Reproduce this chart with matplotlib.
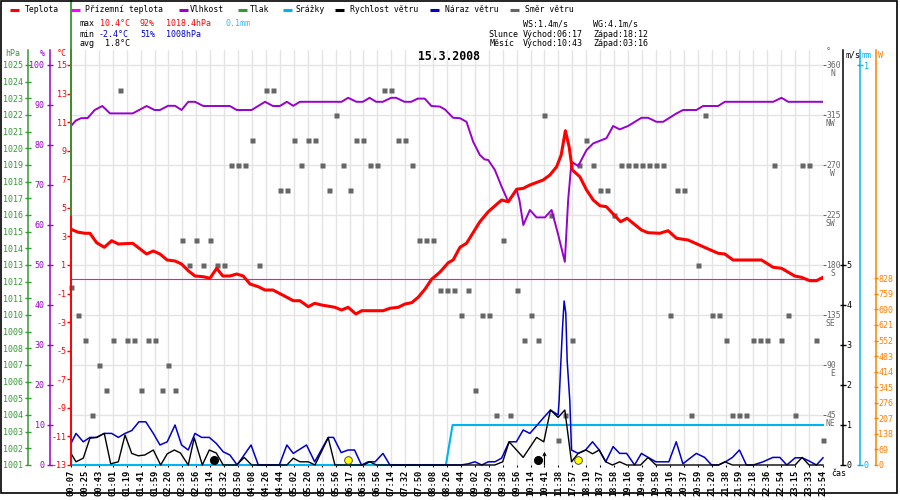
import matplotlib
matplotlib.use("Agg")
import matplotlib.pyplot as plt
from matplotlib.lines import Line2D
from matplotlib.patches import Rectangle

# ---------------- data ----------------
times = ["00:07","00:25","00:43","01:01","01:19","01:41","01:59","02:20","02:38","02:56",
         "03:14","03:32","03:50","04:08","04:26","04:44","05:02","05:20","05:38","05:56",
         "06:17","06:38","06:56","07:14","07:32","07:50","08:08","08:26","08:44","09:02",
         "09:20","09:38","09:56","10:14","10:41","11:38","17:57","18:19","18:37","18:58",
         "19:16","19:40","19:58","20:16","20:37","20:59","21:20","21:38","21:59","22:18",
         "22:36","22:54","23:15","23:33","23:54"]

temp_x = [0, 0.5, 1.0, 1.36, 1.84, 2.39, 2.92, 3.4, 4.43, 5.43, 5.9, 6.39, 6.9, 7.47, 7.94, 8.42,
          8.9, 9.5, 9.98, 10.46, 10.9, 11.41, 11.9, 12.37, 12.85, 13.45, 13.93, 14.5, 15.5, 15.96,
          16.44, 17.04, 17.5, 17.99, 18.95, 19.43, 19.9, 20.46, 20.87, 22.42, 22.9, 23.5, 23.98,
          24.46, 24.93, 25.41, 25.89, 26.49, 27.09, 27.44, 27.93, 28.4, 29.36, 29.96, 30.92, 31.4,
          32.0, 32.48, 32.95, 33.9, 34.39, 34.87, 35.2, 35.5, 35.77, 36.0, 36.54, 37.02, 37.5,
          37.98, 38.45, 38.93, 39.46, 39.93, 40.96, 41.44, 42.28, 42.88, 43.48, 44.31, 45.39,
          46.47, 46.95, 47.54, 49.58, 50.42, 51.02, 51.97, 52.45, 53.05, 53.53, 54.0]
temp = [3.5, 3.3, 3.22, 3.22, 2.56, 2.24, 2.7, 2.47, 2.52, 1.77, 1.98, 1.77, 1.35, 1.28, 1.07, 0.6,
        0.23, 0.18, 0.07, 0.77, 0.23, 0.23, 0.37, 0.23, -0.33, -0.52, -0.75, -0.75, -1.26, -1.5,
        -1.5, -1.92, -1.68, -1.8, -1.96, -2.15, -1.96, -2.43, -2.2, -2.2, -2.03, -1.96, -1.73,
        -1.64, -1.26, -0.7, 0.0, 0.5, 1.16, 1.35, 2.24, 2.52, 4.03, 4.73, 5.55, 5.43,
        6.3, 6.37, 6.6, 6.95, 7.3, 7.88, 8.7, 10.4, 9.28, 7.65, 7.18, 6.25, 5.55,
        5.15, 5.08, 4.57, 4.03, 4.27, 3.45, 3.26, 3.22, 3.4, 2.87, 2.75, 2.28,
        1.82, 1.77, 1.35, 1.35, 0.84, 0.77, 0.23, 0.14, -0.1, -0.1, 0.14]

ground_x = [0, 54]
ground = [0.0, 0.0]

hum_x = [0, 0.34, 0.72, 1.2, 1.7, 2.25, 2.8, 4.43, 5.43, 6.0, 6.39, 6.97, 7.47, 7.94, 8.42, 8.9,
         9.5, 11.41, 11.9, 12.97, 13.93, 14.5, 15.0, 15.5, 15.96, 16.44, 19.43, 19.9, 20.5, 20.96,
         21.44, 21.91, 22.39, 22.99, 23.35, 23.95, 24.43, 24.9, 25.4, 25.88, 26.49, 26.85, 27.44,
         27.93, 28.4, 28.88, 29.36, 29.7, 29.96, 30.44, 30.92, 31.4, 32.0, 32.2, 32.48, 32.95,
         33.43, 34.03, 34.51, 34.99, 35.46, 35.7, 35.94, 36.42, 37.02, 37.5, 38.45, 38.93, 39.4,
         40.0, 40.96, 41.44, 42.04, 42.52, 43.48, 43.95, 44.91, 45.39, 46.47, 46.95, 50.42,
         51.02, 51.5, 54.0]
hum = [84.75, 86.1, 86.7, 86.75, 88.75, 89.75, 87.9, 87.9, 89.75, 88.75, 88.75, 89.8, 89.8, 88.75,
       90.8, 90.8, 89.75, 89.75, 88.75, 88.75, 90.8, 89.75, 89.75, 90.8, 89.8, 90.8, 90.8, 91.8,
       90.8, 90.8, 91.8, 90.8, 90.8, 91.8, 91.8, 90.8, 90.8, 91.6, 91.6, 89.75, 89.6, 88.9, 86.8,
       86.7, 85.8, 80.8, 77.5, 76.4, 76.25, 73.75, 69.6, 65.8, 68.75, 66.25, 60.0, 63.75, 61.9,
       61.9, 63.75, 57.5, 50.8, 66.25, 75.8, 74.75, 78.75, 80.4, 81.7, 84.75, 83.9, 84.75, 86.8,
       86.8, 85.8, 85.8, 87.9, 88.75, 88.75, 89.75, 89.75, 90.8, 90.8, 91.8, 90.8, 90.8]

press_x = [0, 0]
press = [1016.0, 1028.9]

rain_x = [0, 26.92, 27.4, 54]
rain = [0.0, 0.0, 0.1, 0.1]

ws_x = [0, 0.36, 0.88, 1.36, 1.84, 2.39, 2.85, 3.4, 3.88, 4.36, 4.83, 5.3, 5.91, 6.44, 6.91, 7.42,
        7.86, 8.42, 8.85, 9.43, 9.93, 10.43, 10.93, 11.89, 12.44, 12.97, 15.5, 15.96, 16.44, 17.04,
        17.52, 18.47, 18.95, 21.0, 21.46, 21.94, 30.44, 31.0, 31.46, 32.47, 33.43, 33.95, 34.43,
        34.98, 35.46, 35.94, 36.42, 36.97, 37.45, 37.93, 38.4, 38.88, 39.4, 39.9, 40.9, 41.44,
        42.0, 46.5, 46.95, 47.5, 52.0, 52.5, 53.0, 54.0]
ws = [0.29, 0.08, 0.17, 0.67, 0.69, 0.79, 0.03, 0.08, 0.75, 0.29, 0.23, 0.25, 0.375, 0.0, 0.28, 0.375,
      0.3, 0.0, 0.68, 0.0, 0.375, 0.3, 0.0, 0.0, 0.19, 0.0, 0.0, 0.17, 0.08, 0.08,
      0.0, 0.68, 0.0, 0.0, 0.08, 0.0, 0.0, 0.08, 0.58, 0.19, 0.69, 0.58, 1.375,
      1.19, 1.375, 0.08, 0.29, 0.375, 0.28, 0.375, 0.08, 0.0, 0.08, 0.0, 0.0, 0.19,
      0.0, 0.0, 0.08, 0.0, 0.0, 0.19, 0.0, 0.0]

wg_x = [0, 0.36, 0.88, 1.36, 1.84, 2.39, 2.92, 3.4, 3.88, 4.36, 4.88, 5.37, 5.91, 6.39, 6.91, 7.47,
        7.94, 8.42, 8.9, 9.38, 9.93, 10.43, 10.93, 11.41, 11.93, 12.93, 13.45, 14.96, 15.5, 15.96,
        16.91, 17.5, 18.47, 18.85, 19.4, 19.9, 20.36, 20.86, 21.34, 21.84, 22.4, 22.9, 28.0, 28.52,
        29.0, 29.5, 29.96, 30.44, 30.92, 31.46, 31.98, 32.47, 32.95, 33.48, 33.95, 34.43, 34.98,
        35.05, 35.18, 35.3, 35.41, 35.53, 35.63, 35.82, 35.94, 36.42, 36.95, 37.45, 37.93, 38.4,
        38.93, 39.4, 39.9, 40.47, 40.96, 41.44, 42.0, 42.93, 43.46, 43.94, 44.9, 45.5, 46.0, 46.5,
        47.0, 47.5, 48.0, 48.5, 49.0, 49.7, 50.4, 50.9, 51.4, 52.0, 52.5, 53.0, 53.53, 54.0]
wg = [0.54, 0.79, 0.58, 0.69, 0.69, 0.79, 0.79, 0.69, 0.79, 0.86, 1.08, 1.08, 0.79, 0.5, 0.58, 1.0,
      0.5, 0.375, 0.79, 0.69, 0.69, 0.54, 0.33, 0.25, 0.0, 0.5, 0.0, 0.0, 0.5, 0.29,
      0.5, 0.08, 0.69, 0.69, 0.31, 0.375, 0.375, 0.0, 0.08, 0.08, 0.29, 0.0, 0.0, 0.03,
      0.08, 0.0, 0.08, 0.08, 0.17, 0.58, 0.58, 0.875, 0.79, 1.0, 1.19, 1.375, 1.25,
      1.6, 2.6, 3.46, 4.1, 3.8, 2.6, 1.6, 0.375, 0.29, 0.375, 0.58, 0.375, 0.08,
      0.46, 0.29, 0.29, 0.0, 0.29, 0.19, 0.08, 0.08, 0.58, 0.03, 0.29, 0.19, 0.0, 0.0,
      0.08, 0.19, 0.375, 0.0, 0.0, 0.08, 0.19, 0.19, 0.0, 0.18, 0.18, 0.1, 0.0, 0.18]

wind_dir = [160, 135, 112.5, 45, 90, 67.5, 112.5, 337.5, 112.5, 112.5,
            67.5, 112.5, 112.5, 67.5, 90, 67.5, 202.5, 180, 202.5, 180,
            202.5, 180, 180, 270, 270, 270, 292.5, 180, 337.5, 337.5,
            247.5, 247.5, 292.5, 270, 292.5, 292.5, 270, 247.5, 315, 270,
            247.5, 292.5, 292.5, 270, 270, 337.5, 337.5, 292.5, 292.5, 270,
            202.5, 202.5, 202.5, 157.5,
            157.5, 157.5, 135, 157.5, 67.5, 135, 135, 45, 202.5, 45,
            157.5, 112.5, 135, 112.5, 315, 225, 22.5, 45, 112.5, 270,
            292.5, 270, 247.5, 247.5, 225, 270, 270, 270, 270, 270,
            270, 270, 135, 247.5, 247.5, 45, 180, 315, 135, 135,
            112.5, 45, 45, 45, 112.5, 112.5, 112.5, 270, 112.5, 135,
            45, 270, 270, 112.5, 22.5]
wind_dir_x = [i * 0.5 for i in range(len(wind_dir))]   # one sample every half label step

event_x = [10.3, 19.9, 33.5, 36.4]          # moonset 03:16, sunrise 06:17, moonrise 10:43, sunset 18:12
event_kind = ["moon", "sun", "moon", "sun"]
arrow_x = 34

deg_ticks = [45, 90, 135, 180, 225, 270, 315, 360]
compass = ["NE", "E", "SE", "S", "SW", "W", "NW", "N"]
temp_ticks = list(range(-13, 16, 2))
hum_ticks = list(range(0, 101, 10))
press_ticks = list(range(1001, 1026))
ws_ticks = [0, 1, 2, 3, 4, 5]
mm_ticks = [0, 1]
rad_ticks = [0, 69, 138, 207, 276, 345, 414, 483, 552, 621, 690, 759, 828]

# ---------------- style ----------------
plt.rcParams['font.family'] = ['DejaVu Sans Mono', 'DejaVu Sans']
plt.rcParams['axes.unicode_minus'] = False

RED = '#ff0000'; MAG = '#ff00ff'; PUR = '#9900cc'; GRN = '#339933'
CYA = '#00b4f0'; BLU = '#0000cc'; GRY = '#666666'; ORA = '#ff8000'
PX = 0.72
FW, FH = 900, 500

def fx(px):
    return px / FW

def fy(py):
    return 1 - py / FH

fig = plt.figure(figsize=(9, 5), dpi=100)
fig.patch.set_facecolor('white')
rect = [fx(71), fy(465), fx(823) - fx(71), fy(50) - fy(465)]
axD = fig.add_axes(rect)
axS = axD.twinx()
axR = axD.twinx()
axW = axD.twinx()
axH = axD.twinx()
axT = axD.twinx()
axP = axD.twinx()
allax = [axD, axS, axR, axW, axH, axT, axP]
for a in allax:
    for s in a.spines.values():
        s.set_visible(False)
axD.set_xlim(0, 54)

# base: wind direction + grid
axD.yaxis.tick_right()
axD.set_ylim(0, 373.5)
axD.set_yticks(deg_ticks)
axD.set_yticklabels([str(d) for d in deg_ticks])
axD.tick_params(axis='y', colors=GRY, direction='out', length=3 * PX, width=0.8, pad=0.3, labelsize=5.8)
axD.grid(True, color='#e4e4e4', lw=1.0)
axD.set_axisbelow(True)
axD.set_xticks(range(len(times)))
axD.set_xticklabels(times, rotation=90, fontsize=6.3, fontweight='bold')
axD.tick_params(axis='x', colors='black', direction='out', length=2.5 * PX, width=0.8, pad=1.5)
axD.plot(wind_dir_x, wind_dir, 's', color=GRY, ms=3.6, mec='none', clip_on=False, zorder=3)
for d, c in zip(deg_ticks, compass):
    axD.annotate(c, xy=(1, d), xycoords=axD.get_yaxis_transform(), xytext=(12 * PX, -8.5 * PX),
                 textcoords='offset points', ha='right', va='center', fontsize=5.8, color=GRY)


def left_axis(a, color, offset_px, ticks, lo, hi, direction, length_px, pad_px, lw=1.1):
    a.set_ylim(lo, hi)
    a.yaxis.set_label_position('left')
    a.yaxis.tick_left()
    sp = a.spines['left']
    sp.set_visible(True)
    sp.set_color(color)
    sp.set_linewidth(lw)
    sp.set_position(('outward', offset_px * PX))
    a.set_yticks(ticks)
    a.tick_params(axis='y', colors=color, direction=direction, length=length_px * PX,
                  width=1, pad=pad_px * PX, labelsize=6)


def right_axis(a, color, offset_px, ticks, lo, hi, length_px, pad_px, lw=1.1):
    a.set_ylim(lo, hi)
    a.yaxis.tick_right()
    sp = a.spines['right']
    sp.set_visible(True)
    sp.set_color(color)
    sp.set_linewidth(lw)
    sp.set_position(('outward', offset_px * PX))
    a.set_yticks(ticks)
    a.tick_params(axis='y', colors=color, direction='inout', length=length_px * PX,
                  width=1, pad=pad_px * PX, labelsize=6)


left_axis(axP, GRN, 43, press_ticks, 1001, 1025.9, 'inout', 6, 2.3)
left_axis(axH, PUR, 21, hum_ticks, 0, 103.75, 'inout', 6, 2.5)
left_axis(axT, RED, 0, temp_ticks, -13, 16.05, 'out', 4, 0.5, lw=1.4)
axP.yaxis.label.set_color(GRN)
right_axis(axW, 'black', 20, ws_ticks, 0, 10.375, 6, 0.5)
right_axis(axR, CYA, 37, mm_ticks, 0, 1.0375, 6, 1)
right_axis(axS, ORA, 53, rad_ticks, 0, 1840, 4, 0.3)
axD.yaxis.tick_right()

# series
axR.plot(rain_x, rain, color=CYA, lw=1.5, clip_on=False, zorder=2)
axW.plot(wg_x, wg, color=BLU, lw=1.1, clip_on=False, zorder=2)
axW.plot(ws_x, ws, color='black', lw=1.0, clip_on=False, zorder=3)
axH.plot(hum_x, hum, color=PUR, lw=1.4, zorder=2)
axT.plot(ground_x, ground, color=MAG, lw=0.8, zorder=2)
axT.plot(temp_x, temp, color=RED, lw=2.2, zorder=3)
axP.plot(press_x, press, color=GRN, lw=1.3, clip_on=False, zorder=5)

# sun / moon events
tr = axP.get_xaxis_transform()
for x, k in zip(event_x, event_kind):
    if k == 'moon':
        axP.plot([x], [0.011], 'o', transform=tr, ms=5.5, mfc='black', mec='black', clip_on=False, zorder=6)
    else:
        axP.plot([x], [0.011], 'o', transform=tr, ms=5.5, mfc='#ffff00', mec='#333333', mew=0.6,
                 clip_on=False, zorder=6)
axP.annotate('', xy=(arrow_x, 0.032), xytext=(arrow_x, 0.0), xycoords=tr, textcoords=tr,
             arrowprops=dict(arrowstyle='->', lw=0.8, color='black', mutation_scale=5,
                             shrinkA=0, shrinkB=0))

# axis header labels
hdr = dict(va='center', fontsize=6)
fig.text(fx(13), fy(54), 'hPa', color=GRN, ha='center', **hdr)
fig.text(fx(42), fy(54), '%', color=PUR, ha='center', **hdr)
fig.text(fx(62), fy(54), '°C', color=RED, ha='center', **hdr)
fig.text(fx(828), fy(52), '°', color=GRY, ha='center', **hdr)
fig.text(fx(853), fy(55), 'm/s', color='black', ha='center', **hdr)
fig.text(fx(866.5), fy(55), 'mm', color=CYA, ha='center', **hdr)
fig.text(fx(880), fy(55), 'W', color=ORA, ha='center', **hdr)
fig.text(fx(839), fy(473), 'čas', color='black', ha='center', **hdr)

# legend
legend_items = [("Teplota", RED, 10, 25), ("Přízemní teplota", MAG, 71, 85), ("Vlhkost", PUR, 179, 190),
                ("Tlak", GRN, 238, 250), ("Srážky", CYA, 283, 295), ("Rychlost větru", 'black', 335, 350),
                ("Náraz větru", BLU, 430, 445), ("Směr větru", GRY, 510, 525)]
for name, col, mx, tx in legend_items:
    fig.add_artist(Line2D([fx(mx), fx(mx + 9)], [fy(9.5), fy(9.5)], transform=fig.transFigure,
                          color=col, lw=2.2, solid_capstyle='butt'))
    fig.text(fx(tx), fy(9.5), name, color='black', ha='left', va='center', fontsize=5.9)

# info block
info = [("max", 80, 24, 'black'), ("10.4°C", 100, 24, RED), ("92%", 140, 24, RED),
        ("1018.4hPa", 166, 24, RED), ("0.1mm", 226, 24, '#33bbff'),
        ("min", 80, 34, 'black'), ("-2.4°C", 99, 34, BLU), ("51%", 140, 34, BLU),
        ("1008hPa", 166, 34, BLU),
        ("avg", 80, 44, 'black'), ("1.8°C", 105, 44, 'black'),
        ("WS:1.4m/s", 523, 24, 'black'), ("WG:4.1m/s", 593, 24, 'black'),
        ("Slunce", 488, 34, 'black'), ("Východ:06:17", 523, 34, 'black'), ("Západ:18:12", 593, 34, 'black'),
        ("Měsíc", 490, 44, 'black'), ("Východ:10:43", 523, 44, 'black'), ("Západ:03:16", 593, 44, 'black')]
for txt, x, y, col in info:
    fig.text(fx(x), fy(y), txt, color=col, ha='left', va='center', fontsize=6)

fig.text(fx(449), fy(57), "15.3.2008", color='black', ha='center', va='center', fontsize=8.3,
         fontweight='bold')

fig.add_artist(Rectangle((fx(1), fy(493)), fx(897) - fx(1), fy(1) - fy(493), transform=fig.transFigure,
                         fill=False, ec='black', lw=1.2))

fig.savefig('out.png', dpi=100, facecolor='white')
